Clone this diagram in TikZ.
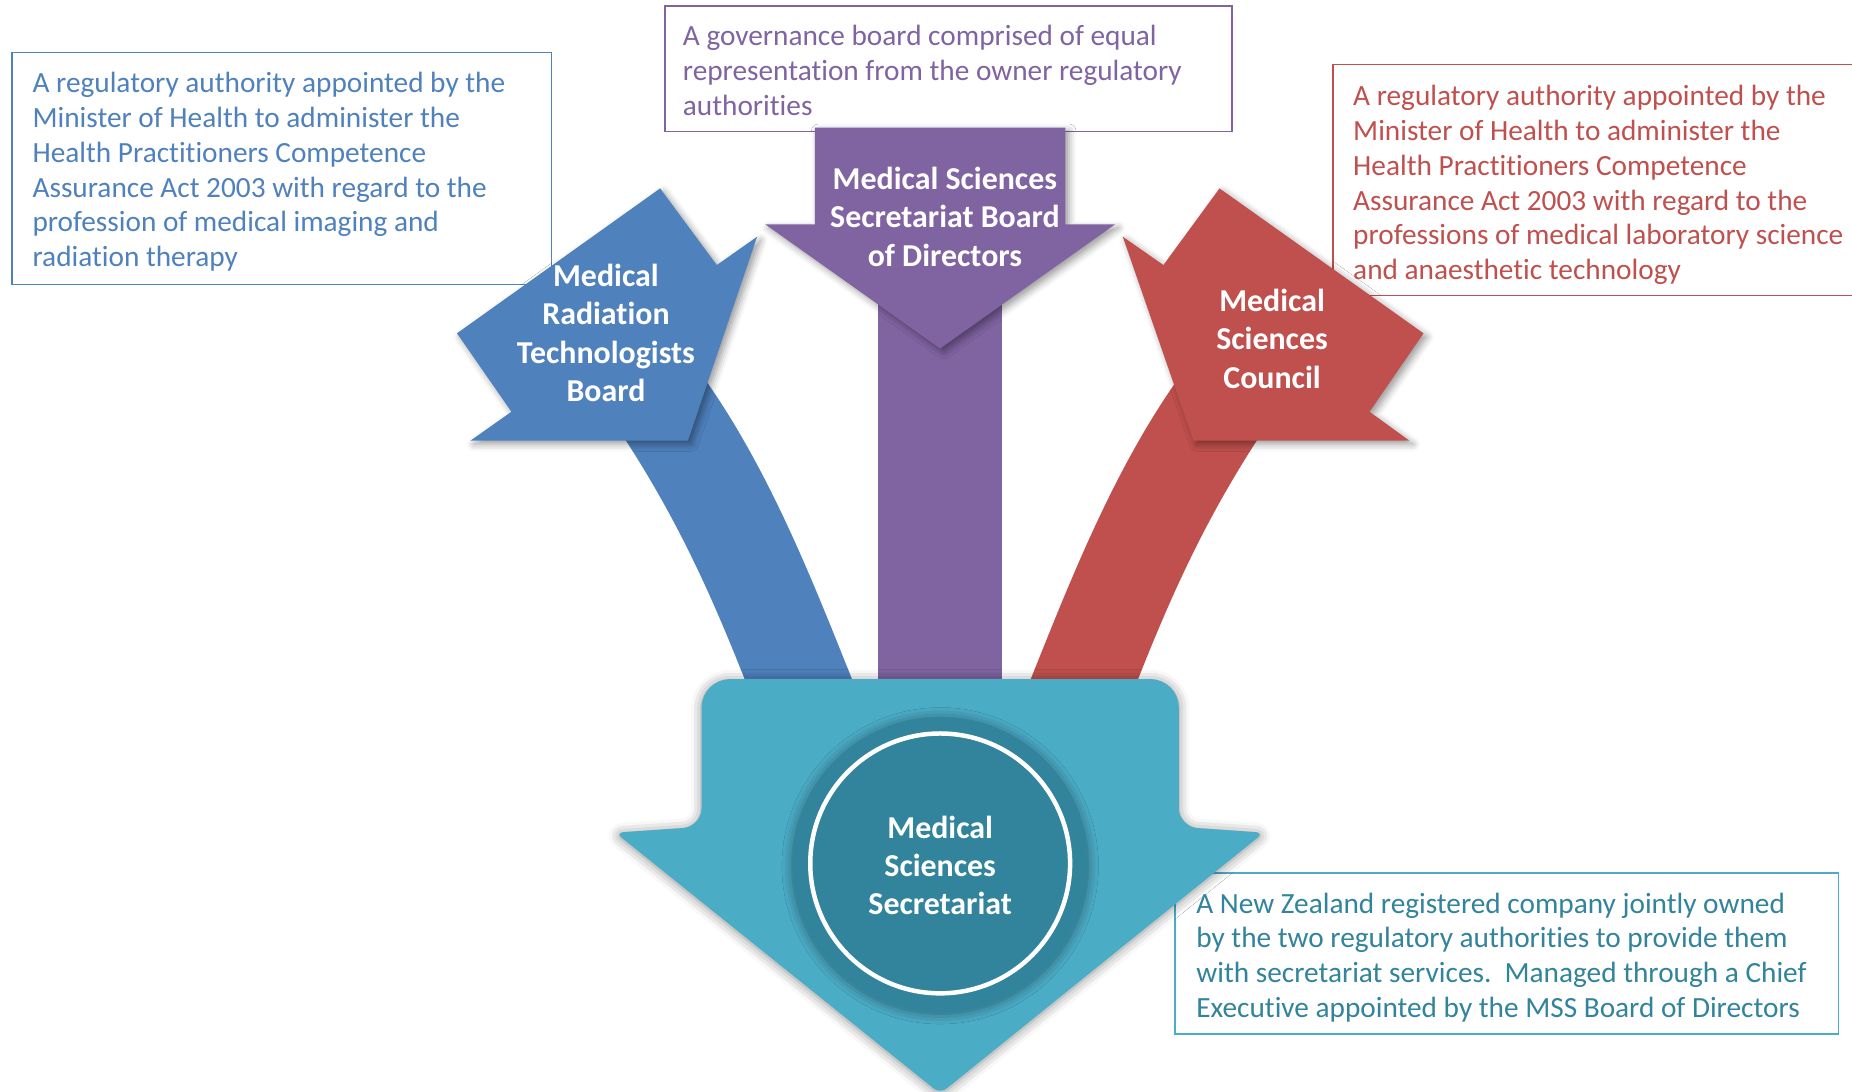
\documentclass[tikz,border=0pt]{standalone}
\usepackage{fontspec}
\setmainfont[Ligatures={NoCommon}]{Carlito}
\usetikzlibrary{shadows.blur}
\definecolor{cblue}{HTML}{4F81BD}
\definecolor{cred}{HTML}{C0504D}
\definecolor{cpurple}{HTML}{8064A2}
\definecolor{cteal}{HTML}{4BACC6}
\definecolor{cdteal}{HTML}{31849B}
\begin{document}
\begin{tikzpicture}[x=1pt,y=-1pt,
  desc/.style={anchor=base west, inner sep=0pt, align=left, font=\fontsize{24.8}{29.6}\selectfont},
  lbl/.style={anchor=base, inner sep=0pt, align=center, text=white, font=\bfseries\fontsize{27}{32.5}\selectfont},
  dbox/.style={line width=1.3pt, fill=white},
  shad/.style={blur shadow={shadow xshift=3pt, shadow yshift=-3pt, shadow blur radius=6pt, shadow opacity=40}},
  glow/.style={blur shadow={shadow xshift=0pt, shadow yshift=-1pt, shadow blur radius=9pt, shadow opacity=45}}]
\useasboundingbox (0,0) rectangle (1568,924);
% description boxes
\draw[dbox, draw=cblue] (10,44.6) rectangle (467,241);
\draw[dbox, draw=cpurple] (563,5) rectangle (1043,111.5);
\begin{scope}
\clip (0,0) rectangle (1568,924);
\draw[dbox, draw=cred] (1128.5,54.5) rectangle (1580,250);
\end{scope}
\draw[dbox, draw=cteal] (995,739) rectangle (1556.5,875.6);
% bands
\fill[cpurple] (743.7,250) rectangle (848.2,585);
\fill[cblue] (520,358) .. controls (574,438) and (605,510) .. (634,584) -- (725,584) .. controls (691,500) and (650,390) .. (585,305) -- cycle;
\fill[cred] (1074,358) .. controls (1020,438) and (989,510) .. (960,584) -- (869,584) .. controls (903,500) and (944,390) .. (1009,305) -- cycle;
% arrows
\fill[cpurple, shad] (690,108) -- (902,108) -- (902,190) -- (944,190) -- (796,295) -- (648,190) -- (690,190) -- cycle;
\fill[cblue, shad] (558.9,159.5) -- (606.9,224.4) -- (641,200.4) -- (582.4,373.1) -- (398.3,373.1) -- (433,348.6) -- (386.9,282.2) -- cycle;
\fill[cred, shad] (1032.5,159.5) -- (985,224.4) -- (950.6,200.4) -- (1010.4,373.1) -- (1193.3,373.1) -- (1159.5,348.6) -- (1205.2,282.2) -- cycle;
% main arrow
\fill[cteal, glow] (796,575) [rounded corners=24pt] -- (998,575) -- (998,640) [rounded corners=16pt] -- (998,700) -- (1030,702.2) [rounded corners=7pt] -- (1070,705) -- (796,926) -- (521,705) -- (560,702.3) [rounded corners=16pt] -- (594,700) -- (594,640) [rounded corners=24pt] -- (594,575) -- cycle;
\fill[cdteal, glow] (796,732) circle[radius=125pt];
\draw[white, line width=3.8pt, fill=cdteal] (796,731) circle[radius=110pt];
% labels (base anchor = last line)
\node[lbl] (lblue) at (513,340) {Medical\\Radiation\\Technologists\\Board};
\node[lbl] (lred) at (1077,328.5) {Medical\\Sciences\\Council};
\node[lbl] (lpurple) at (800,225.5) {Medical Sciences\\Secretariat Board\\of Directors};
\node[lbl] (lteal) at (796,774.5) {Medical\\Sciences\\Secretariat};
% descriptions (base anchor = last line)
\node[desc, text=cblue] (dblue) at (27.4,226) {A regulatory authority appointed by the\\Minister of Health to administer the\\Health Practitioners Competence\\Assurance Act 2003 with regard to the\\profession of medical imaging and\\radiation therapy};
\node[desc, text=cpurple] (dpurple) at (578,98) {A governance board comprised of equal\\representation from the owner regulatory\\authorities};
\node[desc, text=cred] (dred) at (1145.5,237) {A regulatory authority appointed by the\\Minister of Health to administer the\\Health Practitioners Competence\\Assurance Act 2003 with regard to the\\professions of medical laboratory science\\and anaesthetic technology};
\node[desc, text=cdteal] (dteal) at (1012.7,861.8) {A New Zealand registered company jointly owned\\by the two regulatory authorities to provide them\\with secretariat services.\ \ Managed through a Chief\\Executive appointed by the MSS Board of Directors};
\end{tikzpicture}
\end{document}
